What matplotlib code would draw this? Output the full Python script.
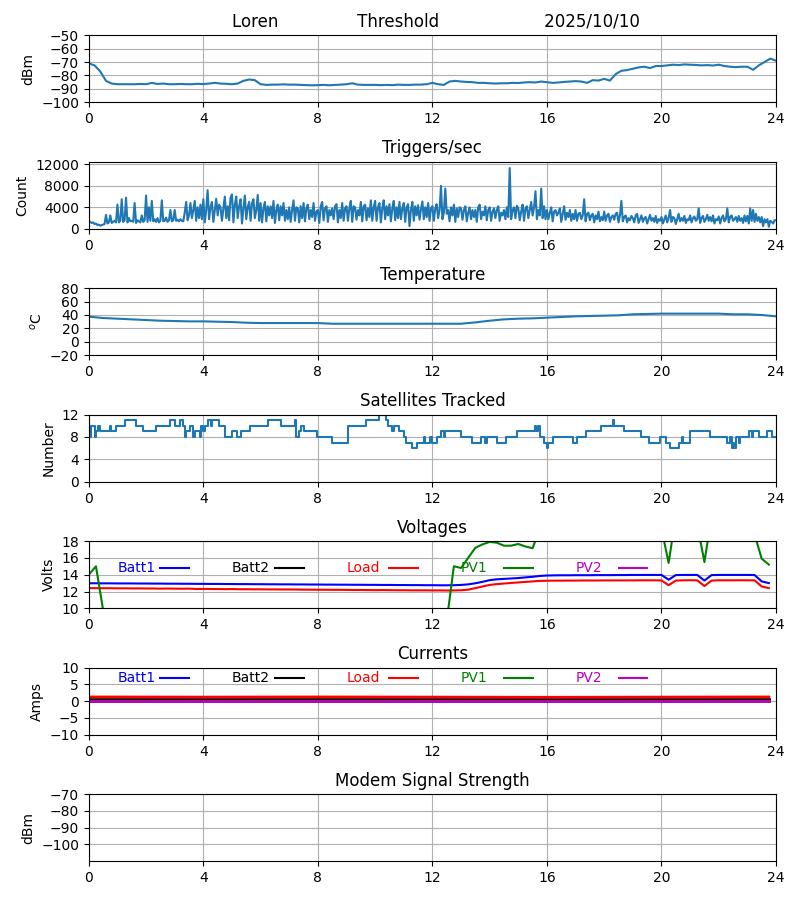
import numpy as np
import matplotlib
matplotlib.use("Agg")
import matplotlib.pyplot as plt

# RSSI (dBm), sampled every 0.2 h
rssi = [-71, -72.5, -77, -84, -86, -86.5, -86.5, -86.5, -86.5, -86.3,
        -86.5, -85.5, -86.3, -86, -86.5, -86.5, -86.3, -86.5, -86.5, -86.2,
        -86.4, -86, -85.5, -86, -86.2, -86.5, -86, -84, -83, -83.5,
        -86.5, -87, -86.8, -86.8, -86.6, -86.8, -86.8, -87, -87.2, -87.3,
        -87.2, -87, -87.3, -87, -86.8, -86.5, -85.8, -86.8, -87, -87,
        -87, -87.2, -87, -87.2, -86.8, -87, -87, -86.8, -86.8, -86.5,
        -85.5, -86.5, -87, -84.5, -84, -84.5, -84.8, -85, -85.5, -85.5,
        -85.8, -86, -85.8, -85.8, -85.5, -85.6, -85.2, -85, -85.2, -84.5,
        -85, -85.5, -85.2, -84.8, -84.5, -84.2, -84.5, -85.5, -83.5, -83.8,
        -82.5, -83.8, -79, -76.5, -76, -75, -74, -73.5, -74.5, -73,
        -73, -72.5, -72, -72.3, -71.8, -72, -72.2, -72.5, -72.3, -72.6,
        -72, -73, -73.5, -73.8, -73.5, -73.5, -75.8, -72.5, -70, -67.5,
        -69]
rssi_hours = np.linspace(0, 24, len(rssi))

# Triggers/sec, every 0.05 h (one row per hour)
triggers = [
    1500, 1300, 1100, 1200, 900, 1000, 700, 800, 600, 700, 800, 900, 2600, 1000, 1200, 2500, 1100, 1300, 1500, 1200,
    4500, 1200, 1500, 5500, 1300, 1600, 5800, 1200, 2000, 1400, 1500, 1300, 4800, 1100, 1600, 1400, 1200, 2500, 1300, 1600,
    6200, 1300, 4000, 1500, 5200, 1400, 1800, 1300, 2000, 1200, 1500, 5300, 1400, 1500, 2100, 1300, 1600, 3500, 1400, 1600,
    3500, 1500, 1700, 1400, 1800, 1500, 1400, 3000, 5000, 1600, 2500, 4800, 2000, 3500, 5200, 1500, 4000, 2000, 4500, 1800,
    5500, 1200, 3500, 7200, 1800, 4000, 5000, 1300, 3500, 5600, 2500, 4500, 4000, 1500, 3800, 6000, 2000, 4200, 1600, 5800,
    6400, 1200, 4500, 6000, 2000, 4200, 5500, 1000, 3800, 6200, 1800, 4000, 5000, 1500, 4800, 5500, 2000, 3500, 6300, 1500,
    4800, 1200, 3800, 5000, 1400, 4200, 2500, 4200, 2000, 5200, 1100, 3500, 4500, 1600, 4200, 2500, 4800, 1500, 3500, 1800,
    4000, 1300, 3500, 5300, 1500, 4000, 3800, 1200, 4200, 2000, 4800, 1400, 3800, 4500, 1800, 3500, 2200, 4800, 1500, 3200,
    3500, 1100, 4200, 5000, 1600, 3800, 4200, 1300, 3500, 2500, 3800, 1800, 4200, 4600, 1200, 3500, 2000, 4800, 1500, 3800,
    4200, 1500, 3800, 5200, 1300, 4200, 4000, 1700, 3500, 2500, 5000, 1400, 4200, 4500, 1600, 3800, 2200, 5300, 1500, 4000,
    5200, 1500, 4000, 4800, 1200, 3800, 5300, 1800, 4200, 2500, 4600, 1400, 3800, 5200, 1600, 4000, 2000, 5000, 1800, 3800,
    4800, 1300, 4000, 4600, 500, 3500, 5000, 1500, 4200, 2500, 4400, 1700, 3600, 5100, 1800, 4000, 2200, 4800, 1500, 3800,
    4200, 1500, 3800, 4600, 2000, 3500, 8000, 1800, 3000, 7500, 2800, 3500, 1400, 4000, 2500, 4500, 1300, 3800, 2200, 4000,
    3800, 1700, 3500, 4200, 1400, 3000, 4000, 1800, 3500, 2200, 3500, 1300, 4000, 4500, 1800, 3200, 2500, 4200, 1600, 3500,
    4000, 1500, 3200, 3800, 2000, 3500, 4200, 1500, 3000, 2500, 3500, 1800, 4000, 2200, 11300, 1800, 3500, 4000, 2000, 4300,
    3800, 1600, 3200, 4500, 1500, 3800, 4200, 2000, 3500, 5000, 2500, 4000, 7000, 1800, 3500, 2500, 7500, 2000, 4200, 1800,
    3500, 1800, 3000, 4000, 1400, 3200, 3500, 2500, 3000, 3800, 1300, 2800, 4200, 1700, 3000, 2200, 3500, 1500, 2800, 1800,
    3500, 1500, 2800, 3000, 1800, 2500, 5500, 1400, 2800, 3000, 1600, 2500, 2800, 1200, 2500, 1800, 3200, 1400, 2200, 1600,
    3200, 1500, 2500, 2800, 1300, 2200, 2500, 1700, 2800, 3000, 1200, 2500, 5200, 1400, 2200, 2500, 1200, 2000, 1600, 2400,
    2000, 1200, 2500, 2800, 1100, 1800, 2500, 1300, 2000, 2200, 1000, 1800, 2600, 1500, 2000, 1300, 2400, 1100, 1800, 1500,
    2200, 1000, 1800, 2500, 1200, 2000, 3500, 1300, 2200, 2000, 900, 1800, 2800, 1400, 2000, 1500, 2400, 1100, 1800, 1600,
    2500, 1200, 2000, 2300, 1500, 1800, 3800, 1100, 2000, 2400, 1300, 1800, 2600, 1500, 2200, 1400, 2500, 1000, 1800, 1600,
    2300, 1000, 2000, 2500, 1400, 1800, 3800, 1200, 2200, 2500, 1500, 1800, 2200, 1300, 2400, 1500, 2000, 1100, 2500, 1400,
    2400, 1000, 3800, 1500, 3500, 1300, 2800, 1500, 2200, 1200, 2200, 500, 1800, 1200, 1800, 400, 1500, 1300, 1000, 1600,
    1600]
trig_hours = np.linspace(0, 24, len(triggers))

# Temperature, every 0.5 h
temperature = [37.5, 35.5, 34.5, 33.5, 32.5, 31.5, 31, 30.5, 30.5, 30,
               29.5, 28.5, 28, 28, 28, 28, 28, 27, 27, 27,
               27, 27, 27, 27, 27, 27, 27, 29, 31.5, 33.5,
               34.5, 35, 36, 37, 38, 38.5, 39, 39.5, 41, 41.5,
               42, 42, 42, 42, 42, 41, 41, 40, 38]
temp_hours = np.linspace(0, 24, len(temperature))

# Satellites tracked (change points)
sat_hours = [0, 0.06, 0.2, 0.25, 0.33, 0.38, 0.5, 0.73, 0.78, 0.96, 1.27, 1.66,
             1.9, 2.36, 2.83, 3.0, 3.17, 3.3, 3.35, 3.4, 3.55, 3.65, 3.7, 3.89,
             3.93, 3.98, 4.07, 4.15, 4.28, 4.32, 4.55, 4.77, 5.0, 5.16, 5.3, 5.63,
             6.25, 6.72, 7.2, 7.25, 7.34, 7.42, 7.5, 7.96, 8.27, 8.5, 9.05, 9.67,
             10.14, 10.37, 10.45, 10.6, 10.65, 10.84, 11.0, 11.07, 11.3, 11.46, 11.7, 11.75,
             11.93, 12.0, 12.16, 12.3, 12.4, 12.45, 13.0, 13.4, 13.7, 13.85, 13.9, 14.26,
             14.57, 14.96, 15.58, 15.62, 15.68, 15.75, 15.9, 16.0, 16.05, 16.2, 16.9, 17.06,
             17.38, 17.9, 18.3, 18.35, 18.4, 18.7, 19.3, 19.55, 19.94, 20.17, 20.3, 20.6,
             20.7, 20.75, 21.0, 21.7, 22.3, 22.4, 22.45, 22.5, 22.55, 22.6, 22.7, 22.75,
             23.05, 23.15, 23.2, 23.4, 23.7, 23.85, 24.0]
satellites = [8, 10, 8, 9, 10, 9, 9, 10, 9, 10, 11, 10,
              9, 10, 11, 10, 11, 10, 8, 9, 10, 8, 9, 8,
              10, 9, 10, 11, 10, 11, 10, 8, 9, 8, 9, 10,
              11, 10, 11, 8, 9, 10, 9, 8, 8, 7, 10, 11,
              12, 11, 10, 9, 10, 9, 8, 7, 6, 7, 8, 7,
              8, 7, 8, 9, 8, 9, 8, 7, 8, 7, 8, 7,
              8, 9, 10, 9, 10, 8, 7, 6, 7, 8, 7, 8,
              9, 10, 11, 10, 10, 9, 8, 7, 8, 7, 6, 7,
              8, 7, 9, 8, 7, 8, 6, 7, 6, 8, 7, 8,
              9, 8, 9, 8, 9, 8, 8]

# Voltages, every 0.25 h
batt1_v = [12.98, 12.98, 12.97, 12.97, 12.96, 12.96, 12.96, 12.95, 12.95, 12.94, 12.94, 12.93,
           12.93, 12.92, 12.92, 12.91, 12.91, 12.90, 12.90, 12.89, 12.89, 12.88, 12.88, 12.87,
           12.87, 12.86, 12.86, 12.85, 12.85, 12.84, 12.84, 12.83, 12.83, 12.82, 12.82, 12.81,
           12.81, 12.80, 12.80, 12.79, 12.79, 12.78, 12.78, 12.77, 12.77, 12.76, 12.76, 12.75,
           12.75, 12.74, 12.74, 12.75, 12.78, 12.85, 12.98, 13.15, 13.35, 13.45, 13.50, 13.55,
           13.60, 13.68, 13.75, 13.85, 13.90, 13.92, 13.93, 13.93, 13.94, 13.94, 13.94, 13.95,
           13.95, 13.95, 13.96, 13.96, 13.97, 13.97, 13.97, 13.97, 13.97, 13.40, 13.95, 13.97,
           13.97, 13.97, 13.30, 13.95, 13.97, 13.97, 13.97, 13.97, 13.97, 13.96, 13.20, 13.00]
load_v = [12.40, 12.40, 12.39, 12.39, 12.38, 12.38, 12.37, 12.37, 12.36, 12.36, 12.34, 12.35,
          12.34, 12.33, 12.34, 12.30, 12.31, 12.30, 12.29, 12.28, 12.29, 12.27, 12.27, 12.26,
          12.26, 12.25, 12.25, 12.24, 12.24, 12.23, 12.22, 12.22, 12.21, 12.21, 12.20, 12.20,
          12.19, 12.18, 12.18, 12.17, 12.16, 12.17, 12.16, 12.15, 12.15, 12.14, 12.14, 12.14,
          12.13, 12.13, 12.12, 12.13, 12.15, 12.22, 12.40, 12.60, 12.78, 12.88, 12.95, 13.02,
          13.08, 13.14, 13.20, 13.26, 13.28, 13.29, 13.29, 13.30, 13.30, 13.31, 13.31, 13.31,
          13.32, 13.32, 13.32, 13.32, 13.32, 13.33, 13.33, 13.33, 13.32, 12.75, 13.30, 13.33,
          13.34, 13.33, 12.65, 13.30, 13.33, 13.33, 13.33, 13.34, 13.33, 13.33, 12.60, 12.40]
volt_hours = np.linspace(0, 23.75, len(batt1_v))
pv1_v_hours = [0, 0.25, 0.5, 0.75, 12.25, 12.5, 12.75, 13.0, 13.25, 13.5, 13.75, 14.0,
               14.25, 14.5, 14.75, 15.0, 15.25, 15.5, 15.75, 16.0, 18.0, 20.0, 20.25, 20.5,
               21.25, 21.5, 21.75, 23.0, 23.25, 23.5, 23.75]
pv1_v = [14.0, 15.0, 9.8, 0.4, 0.4, 8.5, 15.0, 14.8, 16.0, 17.2, 17.6, 17.9,
         17.8, 17.45, 17.45, 17.65, 17.35, 17.15, 19.5, 20.5, 21.0, 19.5, 15.4, 21.0,
         20.0, 15.5, 21.0, 20.5, 18.8, 15.9, 15.2]
batt2_v_hours = [0, 23.75]
batt2_v = [0.0, 0.0]
pv2_v_hours = [0, 23.75]
pv2_v = [0.0, 0.0]

# Currents
cur_hours = [0, 4, 8, 12, 16, 20, 23.75]
batt1_i = [0.1, 0.1, 0.1, 0.1, 0.1, 0.1, 0.1]
batt2_i = [0.6, 0.6, 0.6, 0.6, 0.6, 0.6, 0.6]
load_i = [1.25, 1.2, 1.25, 1.2, 1.15, 1.2, 1.25]
pv1_i = [0.1, 0.1, 0.1, 0.1, 0.1, 0.1, 0.1]
pv2_i = [0.1, 0.1, 0.1, 0.1, 0.1, 0.1, 0.1]

legend_names = ['Batt1', 'Batt2', 'Load', 'PV1', 'PV2']
legend_colors = ['b', 'k', 'r', 'g', 'm']
legend_x = [1, 5, 9, 13, 17]

fig, axes = plt.subplots(7, 1, figsize=(8, 9), dpi=100)
fig.subplots_adjust(left=0.111, right=0.97, top=0.961, bottom=0.043, hspace=0.88)

ax = axes[0]
ax.plot(rssi_hours, rssi, lw=1.5)
ax.set_title("Loren" + " " * 15 + "Threshold" + " " * 20 + "2025/10/10", x=0.505)
ax.set_ylim(-100, -50)
ax.set_yticks([-100, -90, -80, -70, -60, -50])
ax.set_ylabel("dBm")

ax = axes[1]
ax.plot(trig_hours, triggers, lw=1.5)
ax.set_title("Triggers/sec")
ax.set_ylim(0, 12500)
ax.set_yticks([0, 4000, 8000, 12000])
ax.set_ylabel("Count")

ax = axes[2]
ax.plot(temp_hours, temperature, lw=1.5)
ax.set_title("Temperature")
ax.set_ylim(-20, 80)
ax.set_yticks([-20, 0, 20, 40, 60, 80])
ax.set_ylabel(r"$^o$C")

ax = axes[3]
ax.plot(sat_hours, satellites, lw=1.5, drawstyle='steps-post')
ax.set_title("Satellites Tracked")
ax.set_ylim(0, 12)
ax.set_yticks([0, 4, 8, 12])
ax.set_ylabel("Number")

ax = axes[4]
ax.plot(volt_hours, batt1_v, color='b', lw=1.5)
ax.plot(batt2_v_hours, batt2_v, color='k', lw=1.5)
ax.plot(volt_hours, load_v, color='r', lw=1.5)
ax.plot(pv1_v_hours, pv1_v, color='g', lw=1.5)
ax.plot(pv2_v_hours, pv2_v, color='m', lw=1.5)
ax.set_title("Voltages")
ax.set_ylim(10, 18)
ax.set_yticks([10, 12, 14, 16, 18])
ax.set_ylabel("Volts")
for name, c, x in zip(legend_names, legend_colors, legend_x):
    ax.text(x, 14.8, name, color=c, va='center')
    ax.plot([x + 1.5, x + 2.5], [14.8, 14.8], color=c, lw=1.5)

ax = axes[5]
ax.plot(cur_hours, batt1_i, color='b', lw=2)
ax.plot(cur_hours, batt2_i, color='k', lw=2)
ax.plot(cur_hours, load_i, color='r', lw=2)
ax.plot(cur_hours, pv1_i, color='g', lw=2)
ax.plot(cur_hours, pv2_i, color='m', lw=2)
ax.set_title("Currents")
ax.set_ylim(-10, 10)
ax.set_yticks([-10, -5, 0, 5, 10])
ax.set_ylabel("Amps")
for name, c, x in zip(legend_names, legend_colors, legend_x):
    ax.text(x, 7, name, color=c, va='center')
    ax.plot([x + 1.5, x + 2.5], [7, 7], color=c, lw=1.5)

ax = axes[6]
ax.set_title("Modem Signal Strength")
ax.set_ylim(-110, -70)
ax.set_yticks([-100, -90, -80, -70])
ax.set_ylabel("dBm")

for ax in axes:
    ax.set_xlim(0, 24)
    ax.set_xticks([0, 4, 8, 12, 16, 20, 24])
    ax.grid(True)

fig.savefig("out.png")
